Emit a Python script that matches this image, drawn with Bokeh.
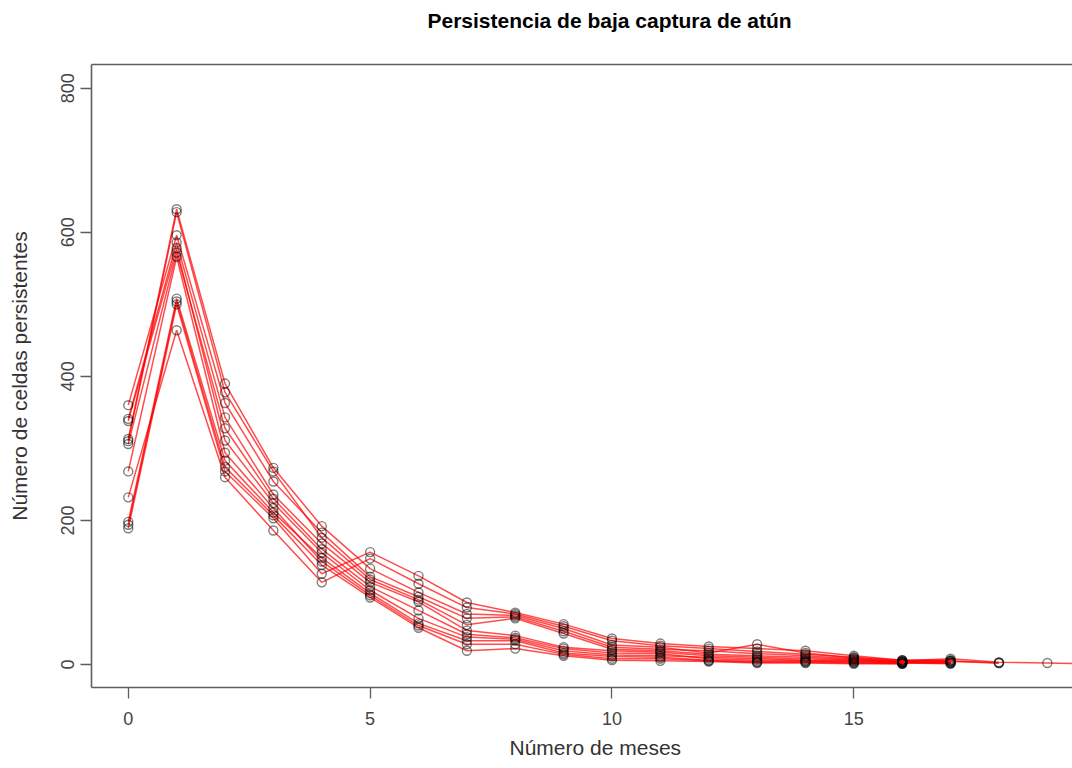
import numpy as np
from bokeh.plotting import figure
from bokeh.models import Range1d, FixedTicker, LinearAxis, Title
from bokeh.embed import file_html
from bokeh.resources import INLINE

N = None
months = list(range(21))
s01 = [360, 596, 363, 254, 183, 122, 94, 64, 66, 46, 24, 21, 19, 15, 12, 8, 4, 5, 2, N, N]
s02 = [341, 586, 343, 236, 168, 114, 87, 47, 40, 24, 19, 17, 12, 10, 8, 6, 3, 3, N, N, N]
s03 = [338, 578, 311, 224, 155, 103, 64, 38, 35, 19, 13, 12, 10, 8, 6, 5, 3, 2, N, N, N]
s04 = [313, 632, 390, 273, 192, 133, 100, 70, 68, 50, 27, 24, 16, 28, 16, 9, 5, 8, 3, 2, 1]
s05 = [310, 628, 378, 268, 176, 118, 90, 55, 64, 43, 21, 19, 14, 12, 10, 7, 4, 4, 2, N, N]
s06 = [306, 572, 328, 230, 160, 108, 75, 42, 37, 22, 16, 15, 8, 6, 5, 4, 2, 1, N, N, N]
s07 = [268, 566, 294, 217, 143, 96, 54, 28, 28, 14, 8, 8, 5, 3, 3, 2, 1, N, N, N, N]
s08 = [232, 464, 260, 186, 114, 147, 112, 79, 70, 53, 33, 26, 22, 18, 14, 10, 6, 6, N, N, N]
s09 = [198, 508, 283, 211, 148, 99, 57, 33, 33, 16, 11, 10, 6, 4, 4, 3, 2, 2, N, N, N]
s10 = [194, 504, 274, 207, 138, 93, 51, 19, 22, 12, 6, 5, 4, 2, 2, 1, 1, N, N, N, N]
s11 = [189, 500, 268, 203, 126, 156, 123, 86, 72, 56, 36, 29, 25, 22, 19, 12, 6, 5, N, N, N]
series = [s01, s02, s03, s04, s05, s06, s07, s08, s09, s10, s11]

x_ticks = [0, 5, 10, 15]
y_ticks = [0, 200, 400, 600, 800]

title_text = "Persistencia de baja captura de atún"
xlabel_text = "Número de meses"
ylabel_text = "Número de celdas persistentes"

FONT = "Liberation Sans"
BOX = "#5e5e5e"

p = figure(width=1072, height=768, output_backend="svg", toolbar_location=None,
           x_range=Range1d(-0.76, 19.52), y_range=Range1d(-32, 833),
           min_border_left=91, min_border_right=0, min_border_top=64,
           min_border_bottom=81)
p.outline_line_color = None
p.grid.visible = False
p.background_fill_color = "white"
p.border_fill_color = "white"

p.title.text = title_text
p.title.align = "left"
p.title.offset = 336
p.title.text_font = FONT
p.title.text_font_size = "21px"
p.title.text_font_style = "bold"
p.title.text_color = "black"
p.title.standoff = 4

for ax in (p.xaxis[0], p.yaxis[0]):
    ax.axis_line_color = BOX
    ax.axis_line_width = 1.6
    ax.major_tick_line_color = BOX
    ax.major_tick_line_width = 1.3
    ax.major_tick_in = 0
    ax.major_tick_out = 11
    ax.minor_tick_line_color = None
    ax.major_label_text_font = FONT
    ax.major_label_text_font_size = "18px"
    ax.major_label_text_color = "#444444"
p.xaxis.ticker = FixedTicker(ticks=x_ticks)
p.yaxis.ticker = FixedTicker(ticks=y_ticks)
p.yaxis.major_label_orientation = "vertical"
p.xaxis.major_label_standoff = 13
p.yaxis.major_label_standoff = 6

p.yaxis.axis_label = ylabel_text
p.yaxis.axis_label_text_font = FONT
p.yaxis.axis_label_text_font_size = "21px"
p.yaxis.axis_label_text_font_style = "normal"
p.yaxis.axis_label_text_color = "#333333"
p.yaxis.axis_label_standoff = 28

# top border of the box
top = LinearAxis(ticker=FixedTicker(ticks=[]), major_tick_out=0, major_tick_in=0,
                 minor_tick_out=0, minor_tick_in=0,
                 major_label_text_font_size="0px", major_label_standoff=0,
                 axis_line_color=BOX, axis_line_width=1.6)
p.add_layout(top, "above")
# blank spacer between the box and the title
spacer = Title(text=" ", text_font_size="1px", standoff=28)
p.add_layout(spacer, "above")

xlab = Title(text=xlabel_text, align="left", offset=418, text_font=FONT,
             text_font_size="21px", text_font_style="normal", text_color="#333333",
             standoff=13)
p.add_layout(xlab, "below")

for s in series:
    y = np.array(s, dtype=float)
    p.line(months, y, line_color="red", line_width=1.5, line_alpha=0.7)
for s in series:
    y = np.array(s, dtype=float)
    p.scatter(months, y, marker="circle", size=9, fill_color=None,
              line_color="black", line_alpha=0.5, line_width=1.4)

open("out.html", "w").write(file_html(p, INLINE))
